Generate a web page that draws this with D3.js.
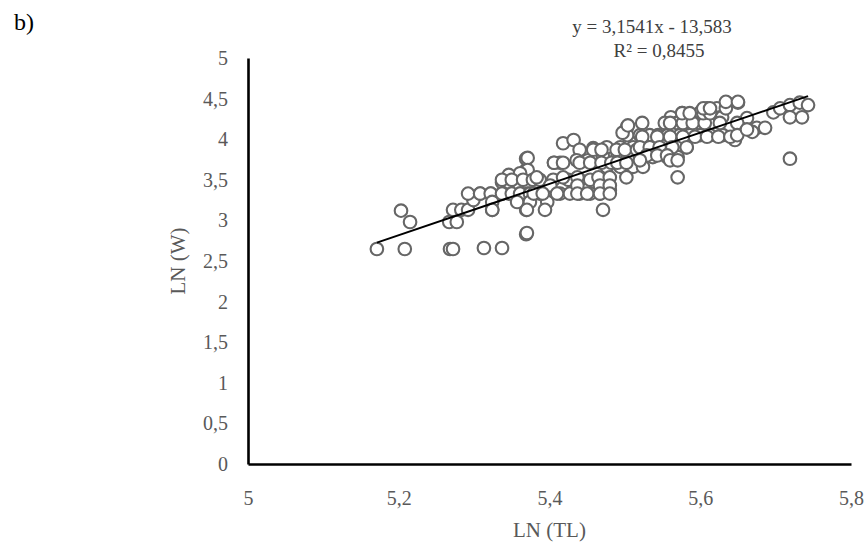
<!DOCTYPE html>
<meta charset="utf-8">
<style>
body { margin: 0; background: #fff; }
svg { font-family: "Liberation Serif", "Times New Roman", serif; }
.axis text { font-family: "Liberation Serif", "Times New Roman", serif; font-size: 20px; fill: #595959; }
.axis path { stroke: #000; stroke-width: 2.6px; }
.dot { fill: #fff; stroke: #666; stroke-width: 2.1px; }
.trend { stroke: #000; stroke-width: 2px; }
.title { font-size: 21px; fill: #595959; }
.eq { font-size: 19px; fill: #404040; }
</style>
<body>
<div id="chart"></div>
<script src="https://cdn.jsdelivr.net/npm/d3@7"></script>
<script>
// LN(TL), LN(W) pairs
var lnTL = [
  5.171,5.203,5.208,5.215,5.268,5.272,5.267,5.277,5.272,5.283,5.292,5.299,5.292,5.308,5.313,5.322,5.337,5.337,5.346,5.324,
  5.337,5.346,5.346,5.361,5.371,5.369,5.369,5.369,5.369,
  5.418,5.432,5.371,5.371,5.361,5.406,5.414,5.440,5.458,5.471,5.436,5.451,5.464,
  5.337,5.350,5.365,5.378,5.387,5.405,5.425,5.440,5.454,5.467,
  5.308,5.322,5.337,5.350,5.361,5.374,5.387,5.401,5.414,5.427,5.440,5.454,5.467,
  5.324,5.357,5.374,5.397,
  5.324,5.370,5.394,5.471,
  5.370,
  5.609,5.622,5.576,5.561,5.593,5.600,5.626,
  5.523,5.503,5.553,5.569,5.590,5.604,
  5.503,5.520,5.533,5.544,5.557,5.573,5.586,5.600,5.613,
  5.476,5.494,5.511,5.529,5.544,5.562,5.582,
  5.471,5.490,5.504,5.520,5.537,5.556,5.570,
  5.476,5.494,5.511,5.524,
  5.570,5.471,5.480,
  5.635,5.650,5.629,5.662,5.653,5.675,5.686,5.669,5.646,5.630,
  5.697,5.706,5.719,5.732,5.743,5.719,5.735,5.719,
  5.406,5.418,5.440,5.454,5.469,5.482,5.490,5.502,
  5.458,5.469,5.489,5.500,5.516,
  5.383,5.418,5.437,5.465,5.480,5.502,
  5.401,5.437,5.467,5.480,
  5.379,5.391,5.410,5.437,5.450,5.467,5.480,
  5.497,5.504,
  5.523,5.543,5.560,5.577,5.593,5.609,5.624,5.640,
  5.560,5.577,5.590,5.606,5.626,5.649,
  5.576,5.586,5.604,5.613,
  5.604,5.613,5.634,
  5.634,5.650,
  5.520,5.533,5.546,5.563,5.582,
  5.529,5.543,5.556,
  5.520,5.560,5.570,
  5.649,5.662
];
var lnW = [
  2.648,3.12,2.648,2.98,2.648,2.648,2.98,2.98,3.13,3.13,3.13,3.25,3.33,3.33,2.66,3.33,3.33,2.66,3.33,3.13,
  3.47,3.47,3.56,3.33,3.33,2.83,3.62,3.76,3.13,
  3.95,3.99,3.77,3.62,3.58,3.71,3.71,3.87,3.89,3.87,3.74,3.74,3.74,
  3.50,3.50,3.50,3.50,3.50,3.50,3.50,3.50,3.50,3.50,
  3.33,3.33,3.33,3.33,3.33,3.33,3.33,3.33,3.33,3.33,3.33,3.33,3.33,
  3.227,3.227,3.227,3.227,
  3.13,3.13,3.13,3.13,
  2.845,
  4.38,4.38,4.32,4.27,4.26,4.33,4.27,
  4.20,4.15,4.20,4.20,4.15,4.15,
  4.05,4.05,4.05,4.05,4.05,4.05,4.05,4.05,4.05,
  3.90,3.90,3.90,3.90,3.90,3.90,3.90,
  3.78,3.78,3.78,3.78,3.78,3.78,3.78,
  3.66,3.66,3.66,3.66,
  3.53,3.37,3.37,
  4.45,4.45,4.27,4.26,4.14,4.14,4.14,4.09,3.99,4.05,
  4.33,4.38,4.42,4.45,4.42,4.27,4.27,3.76,
  3.71,3.71,3.71,3.71,3.71,3.71,3.71,3.71,
  3.87,3.87,3.87,3.87,3.87,
  3.53,3.53,3.53,3.53,3.53,3.53,
  3.43,3.43,3.43,3.43,
  3.33,3.33,3.33,3.33,3.33,3.33,3.33,
  4.08,4.17,
  4.03,4.03,4.03,4.03,4.03,4.03,4.03,4.03,
  4.20,4.20,4.20,4.20,4.20,4.20,
  4.32,4.32,4.32,4.32,
  4.38,4.38,4.38,
  4.46,4.46,
  3.90,3.90,3.90,3.90,3.90,
  3.80,3.80,3.80,
  3.74,3.74,3.74,
  4.05,4.12
];
var slope = 3.1541, intercept = -13.583, r2 = 0.8455;
var xTicks = [5, 5.2, 5.4, 5.6, 5.8];
var yTicks = [0, 0.5, 1, 1.5, 2, 2.5, 3, 3.5, 4, 4.5, 5];

var W = 866, H = 545,
    margin = {top: 58, right: 15, bottom: 81, left: 248},
    width = W - margin.left - margin.right,
    height = H - margin.top - margin.bottom;

var comma = function(d) { return String(d).replace(".", ","); };

var x = d3.scaleLinear().domain([5, 5.8]).range([0, width]);
var y = d3.scaleLinear().domain([0, 5]).range([height, 0]);

var svg = d3.select("#chart").append("svg")
    .attr("width", W).attr("height", H);

svg.append("text")
    .attr("x", 14).attr("y", 30)
    .style("font-size", "24px").style("fill", "#000")
    .text("b)");

var g = svg.append("g")
    .attr("transform", "translate(" + margin.left + "," + margin.top + ")");

var pts = lnTL.map(function(v, i) { return [v, lnW[i]]; });

g.selectAll(".dot")
    .data(pts)
  .enter().append("circle")
    .attr("class", "dot")
    .attr("cx", function(d) { return x(d[0]); })
    .attr("cy", function(d) { return y(d[1]); })
    .attr("r", 6.3);

var xmin = d3.min(lnTL), xmax = d3.max(lnTL);
g.append("line")
    .attr("class", "trend")
    .attr("x1", x(xmin)).attr("y1", y(slope * xmin + intercept))
    .attr("x2", x(xmax)).attr("y2", y(slope * xmax + intercept));

g.append("g")
    .attr("class", "axis")
    .attr("transform", "translate(0," + height + ")")
    .call(d3.axisBottom(x).tickValues(xTicks).tickFormat(comma).tickSize(0).tickPadding(27));

g.append("g")
    .attr("class", "axis")
    .call(d3.axisLeft(y).tickValues(yTicks).tickFormat(comma).tickSize(0).tickPadding(20));

g.append("text")
    .attr("class", "title")
    .attr("text-anchor", "middle")
    .attr("x", width / 2).attr("y", height + 73)
    .text("LN (TL)");

g.append("text")
    .attr("class", "title")
    .attr("text-anchor", "middle")
    .attr("transform", "translate(" + (-63) + "," + (height / 2) + ") rotate(-90)")
    .text("LN (W)");

svg.append("text")
    .attr("class", "eq")
    .attr("text-anchor", "middle")
    .attr("x", 652).attr("y", 33)
    .text("y = " + comma(slope) + "x - " + comma(-intercept));

svg.append("text")
    .attr("class", "eq")
    .attr("text-anchor", "middle")
    .attr("x", 659).attr("y", 57)
    .text("R² = " + comma(r2));
</script>
</body>
